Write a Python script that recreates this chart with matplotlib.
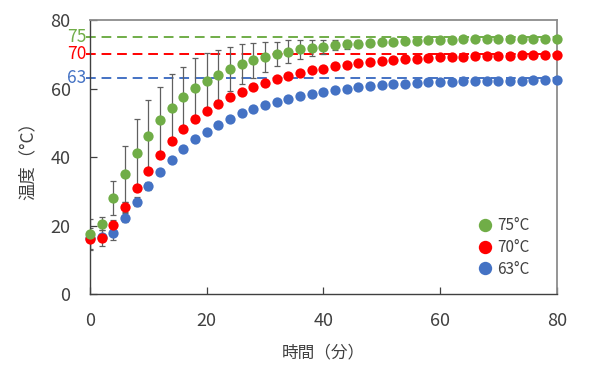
import matplotlib
matplotlib.use("Agg")
import matplotlib.pyplot as plt
import matplotlib.transforms as mtransforms

plt.rcParams['font.family'] = ['Noto Sans CJK JP', 'DejaVu Sans']

# ---- data ----
time_min = list(range(0, 81, 2))

temp_75 = [17.5, 20.5, 28.0, 35.1, 41.1, 46.2, 50.8, 54.4, 57.6, 60.1,
           62.3, 64.0, 65.7, 67.1, 68.2, 69.2, 70.1, 70.8, 71.4, 71.8,
           72.2, 72.6, 72.9, 73.1, 73.3, 73.6, 73.7, 74.0, 74.0, 74.2,
           74.3, 74.3, 74.4, 74.4, 74.4, 74.5, 74.5, 74.5, 74.5, 74.5, 74.5]
err_75 = [4.3, 1.9, 4.9, 8.1, 9.9, 10.4, 9.7, 9.7, 8.8, 8.7,
          8.0, 7.3, 6.5, 5.9, 5.0, 4.4, 3.6, 3.3, 2.8, 2.4,
          2.0, 1.5, 1.3, 1.0, 0.8, 0.6, 0.5, 0.5, 0.4, 0.4,
          0.4, 0.3, 0.3, 0.3, 0.3, 0.3, 0.3, 0.3, 0.3, 0.3, 0.3]

temp_70 = [16.1, 16.3, 20.2, 25.4, 30.9, 36.0, 40.6, 44.6, 48.1, 51.1,
           53.4, 55.6, 57.4, 59.1, 60.5, 61.7, 62.9, 63.7, 64.6, 65.3,
           65.8, 66.5, 67.0, 67.4, 67.7, 68.0, 68.3, 68.5, 68.7, 69.0,
           69.1, 69.2, 69.3, 69.4, 69.5, 69.6, 69.6, 69.7, 69.7, 69.8, 69.8]
err_70 = [3.2, 2.3, 1.5, 1.4, 0.8, 0.6, 0.5, 0.5, 0.4, 0.4,
          0.4, 0.3, 0.3, 0.3, 0.3, 0.3, 0.3, 0.3, 0.3, 0.3,
          0.3, 0.3, 0.3, 0.3, 0.3, 0.3, 0.3, 0.3, 0.3, 0.3,
          0.3, 0.3, 0.3, 0.3, 0.3, 0.3, 0.3, 0.3, 0.3, 0.3, 0.3]

temp_63 = [16.4, 16.5, 17.9, 22.3, 27.0, 31.5, 35.6, 39.2, 42.4, 45.2,
           47.4, 49.4, 51.2, 52.8, 54.1, 55.2, 56.2, 57.0, 57.8, 58.5,
           59.0, 59.6, 59.9, 60.3, 60.7, 60.9, 61.2, 61.4, 61.5, 61.8,
           61.9, 62.0, 62.1, 62.1, 62.2, 62.2, 62.3, 62.3, 62.4, 62.4, 62.4]
err_63 = [1.0, 1.0, 2.1, 1.4, 1.2, 1.2, 0.6, 0.5, 0.4, 0.4,
          0.3, 0.3, 0.3, 0.3, 0.3, 0.3, 0.3, 0.3, 0.3, 0.3,
          0.3, 0.3, 0.3, 0.3, 0.3, 0.3, 0.3, 0.3, 0.3, 0.3,
          0.3, 0.3, 0.3, 0.3, 0.3, 0.3, 0.3, 0.3, 0.3, 0.3, 0.3]

series_labels = ['75°C', '70°C', '63°C']
target_temps = [75, 70, 63]
target_labels = ['75', '70', '63']
colors = ['#70AD47', '#FF0000', '#4472C4']

x_ticks = [0, 20, 40, 60, 80]
y_ticks = [0, 20, 40, 60, 80]
x_label = '時間（分）'
y_label = '温度（°C）'

# ---- figure ----
fig = plt.figure(figsize=(6.0, 3.7), dpi=100)
ax = fig.add_axes([0.150, 0.2054, 0.778, 0.7405])

text_color = '#404040'
err_color = '#606060'

temps = [temp_75, temp_70, temp_63]
errs = [err_75, err_70, err_63]

# target dashed lines (start slightly left of the axis)
for tt, col in zip(target_temps, colors):
    ax.axhline(tt, xmin=-0.008, xmax=1.0, color=col, lw=1.4, dashes=(5, 3),
               zorder=1, clip_on=False)

# error bars
for t, e in zip(temps, errs):
    ax.errorbar(time_min, t, yerr=e, fmt='none', ecolor=err_color,
                elinewidth=0.9, capsize=2.3, capthick=0.9, zorder=2)

# points (blue bottom, green top)
for i in [2, 1, 0]:
    ax.plot(time_min, temps[i], 'o', color=colors[i], ms=7.4, mew=0,
            label=series_labels[i], zorder=3 + (2 - i), clip_on=False)

# target labels left of the axis
trans = mtransforms.blended_transform_factory(ax.transAxes, ax.transData)
for tt, lab, col in zip(target_temps, target_labels, colors):
    ax.text(-0.007, tt, lab, color=col, fontsize=12.5, ha='right',
            va='center', transform=trans)

ax.set_xlim(0, 80)
ax.set_ylim(0, 80)
ax.set_xticks(x_ticks)
ax.set_yticks(y_ticks)
ax.tick_params(direction='in', length=5, width=0.9, colors='#404040',
               labelsize=13, labelcolor=text_color)
ax.tick_params(axis='x', pad=13)
ax.tick_params(axis='y', pad=14)

for side in ['left', 'bottom']:
    ax.spines[side].set_color('#404040')
    ax.spines[side].set_linewidth(1.0)
for side in ['top', 'right']:
    ax.spines[side].set_color('#8c8c8c')
    ax.spines[side].set_linewidth(1.3)

ax.set_xlabel(x_label, fontsize=12, color=text_color, labelpad=10)
ax.set_ylabel(y_label, fontsize=12.5, color=text_color, labelpad=10)

handles, labels = ax.get_legend_handles_labels()
order = [2, 1, 0]
leg = ax.legend([handles[i] for i in order], [labels[i] for i in order],
                loc='lower right', bbox_to_anchor=(0.972, 0.01),
                frameon=False, fontsize=11, markerscale=1.3,
                handletextpad=0.2, labelspacing=0.3, handlelength=1.2)
for txt in leg.get_texts():
    txt.set_color(text_color)

fig.savefig('out.png', dpi=100)
